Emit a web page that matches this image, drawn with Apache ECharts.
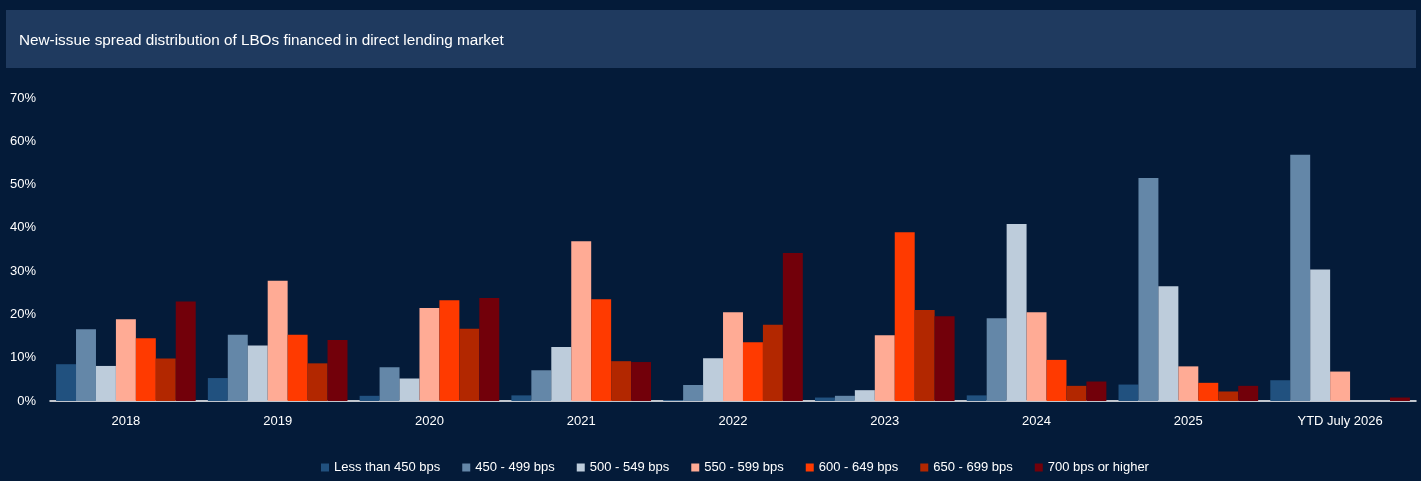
<!DOCTYPE html>
<html>
<head>
    <meta charset="utf-8">
    <title>New-issue spread distribution</title>
    <style>
        html, body { margin: 0; padding: 0; background: #041b39; }
    </style>
</head>
<body>
<script src="https://cdn.jsdelivr.net/npm/echarts@6/dist/echarts.min.js" type="text/javascript" charset="utf-8"></script>
<div id="main" style="width: 1421px;height:481px;"></div>
<script type="text/javascript">
    // data (percent of LBOs)
    var years = ['2018', '2019', '2020', '2021', '2022', '2023', '2024', '2025', 'YTD July 2026'];
    var bucketNames = ['Less than 450 bps', '450 - 499 bps', '500 - 549 bps', '550 - 599 bps',
        '600 - 649 bps', '650 - 699 bps', '700 bps or higher'];
    var lessThan450 = [8.5, 5.3, 1.2, 1.3, 0.2, 0.8, 1.3, 3.8, 4.8];
    var from450to499 = [16.6, 15.3, 7.8, 7.1, 3.7, 1.2, 19.1, 51.5, 56.9];
    var from500to549 = [8.1, 12.8, 5.2, 12.5, 9.9, 2.5, 40.9, 26.5, 30.4];
    var from550to599 = [18.9, 27.8, 21.5, 36.9, 20.5, 15.2, 20.5, 8.0, 6.8];
    var from600to649 = [14.5, 15.3, 23.3, 23.5, 13.6, 39.0, 9.5, 4.2, 0];
    var from650to699 = [9.8, 8.7, 16.7, 9.2, 17.6, 21.0, 3.5, 2.2, 0];
    var over700 = [23.0, 14.1, 23.8, 9.0, 34.2, 19.6, 4.5, 3.5, 0.8];
    var yTicks = [0, 10, 20, 30, 40, 50, 60, 70];

    var bucketData = [lessThan450, from450to499, from500to549, from550to599, from600to649, from650to699, over700];
    var fills = ['#21517f', '#6487a8', '#bdccdb', '#ffab95', '#ff3a00', '#b22700', '#72000a'];

    var series = [];
    for (var i = 0; i < bucketNames.length; i++) {
        series.push({
            name: bucketNames[i],
            type: 'bar',
            data: bucketData[i],
            barGap: '0%',
            barCategoryGap: '8%',
            itemStyle: { color: fills[i] }
        });
    }

    var myChart = echarts.init(document.getElementById('main'));
    var font = 'Arial, "Liberation Sans", Helvetica, sans-serif';

    var option = {
        backgroundColor: '#041b39',
        textStyle: { fontFamily: font },
        graphic: [{
            type: 'rect',
            shape: { x: 6, y: 10, width: 1410, height: 58 },
            style: { fill: '#1f3a5f' },
            z: -1
        }],
        title: {
            text: 'New-issue spread distribution of LBOs financed in direct lending market',
            left: 19,
            top: 33,
            padding: 0,
            textStyle: {
                color: '#ffffff',
                fontSize: 15.3,
                fontWeight: 'normal',
                fontFamily: font
            }
        },
        legend: {
            data: bucketNames,
            bottom: 2,
            left: 316,
            itemWidth: 8,
            itemHeight: 8,
            itemGap: 22,
            icon: 'rect',
            textStyle: { color: '#ffffff', fontSize: 13, fontFamily: font }
        },
        grid: {
            left: 50,
            right: 5,
            top: 98,
            bottom: 80,
            containLabel: false
        },
        xAxis: {
            type: 'category',
            data: years,
            axisLine: { lineStyle: { color: '#ffffff', width: 1.5 } },
            axisTick: { show: false },
            axisLabel: { color: '#ffffff', fontSize: 13, margin: 14, fontFamily: font }
        },
        yAxis: {
            type: 'value',
            min: yTicks[0],
            max: yTicks[yTicks.length - 1],
            interval: 10,
            axisLine: { show: false },
            axisTick: { show: false },
            splitLine: { show: false },
            axisLabel: { color: '#ffffff', fontSize: 13, margin: 14, formatter: '{value}%', fontFamily: font }
        },
        series: series
    };

    myChart.setOption(option);
</script>
</body>
</html>
